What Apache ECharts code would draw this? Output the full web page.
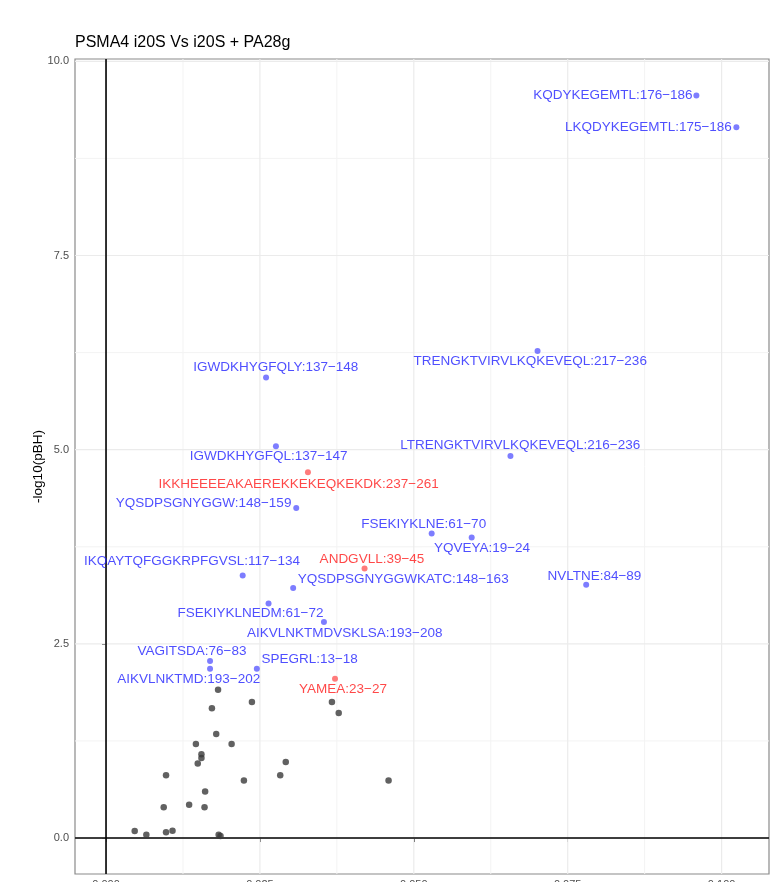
<!DOCTYPE html>
<html>
<head>
<meta charset="utf-8">
<script src="https://cdn.jsdelivr.net/npm/echarts@6/dist/echarts.min.js"></script>
<style>
html,body{margin:0;padding:0;background:#fff;}
#chart{width:782px;height:882px;}
</style>
</head>
<body>
<div id="chart"></div>
<script>
// ---- data ----
const titleText = 'PSMA4 i20S Vs i20S + PA28g';
const yAxisTitle = '-log10(pBH)';

const xMajorTicks = [0, 0.025, 0.05, 0.075, 0.1];
const xMinorTicks = [0.0125, 0.0375, 0.0625, 0.0875];
const yMajorTicks = [0, 2.5, 5, 7.5, 10];
const yMinorTicks = [1.25, 3.75, 6.25, 8.75];

const blueNames = [
  'KQDYKEGEMTL:176\u2212186',
  'LKQDYKEGEMTL:175\u2212186',
  'TRENGKTVIRVLKQKEVEQL:217\u2212236',
  'LTRENGKTVIRVLKQKEVEQL:216\u2212236',
  'IGWDKHYGFQLY:137\u2212148',
  'IGWDKHYGFQL:137\u2212147',
  'YQSDPSGNYGGW:148\u2212159',
  'FSEKIYKLNE:61\u221270',
  'YQVEYA:19\u221224',
  'IKQAYTQFGGKRPFGVSL:117\u2212134',
  'YQSDPSGNYGGWKATC:148\u2212163',
  'FSEKIYKLNEDM:61\u221272',
  'AIKVLNKTMDVSKLSA:193\u2212208',
  'VAGITSDA:76\u221283',
  'AIKVLNKTMD:193\u2212202',
  'SPEGRL:13\u221218',
  'NVLTNE:84\u221289'
];
const blueX = [0.0959, 0.1024, 0.0701, 0.0657, 0.0260, 0.0276, 0.0309, 0.0529, 0.0594, 0.0222, 0.0304, 0.0264, 0.0354, 0.0169, 0.0169, 0.0245, 0.0780];
const blueY = [9.56, 9.15, 6.27, 4.92, 5.93, 5.045, 4.25, 3.92, 3.87, 3.38, 3.22, 3.02, 2.78, 2.28, 2.18, 2.18, 3.26];

const redNames = [
  'IKKHEEEEAKAEREKKEKEQKEKDK:237\u2212261',
  'ANDGVLL:39\u221245',
  'YAMEA:23\u221227'
];
const redX = [0.0328, 0.0420, 0.0372];
const redY = [4.71, 3.47, 2.05];

const grayX = [0.0182, 0.0237, 0.0172, 0.0367, 0.0378, 0.0179, 0.0146, 0.0204, 0.0155, 0.0155, 0.0149, 0.0292, 0.0283, 0.00975, 0.0224, 0.0459, 0.0161, 0.00937, 0.0135, 0.0160, 0.00466, 0.00655, 0.00975, 0.0108, 0.0183, 0.0186];
const grayY = [1.91, 1.75, 1.67, 1.75, 1.61, 1.34, 1.21, 1.21, 1.08, 1.03, 0.96, 0.98, 0.81, 0.81, 0.74, 0.74, 0.60, 0.395, 0.43, 0.395, 0.09, 0.043, 0.073, 0.094, 0.043, 0.026];

// axis limits
const X_MIN = -0.00504, X_MAX = 0.1077;
const Y_MIN = -0.463, Y_MAX = 10.03;

// ---- layout (label nudges in px, like ggrepel placement) ----
const blueLabelOffsets = [
  [-83.5, 0], [-88, 0], [-7.4, 10], [9.7, -10.4], [9.7, -10.3], [-7.3, 9.7],
  [-92.7, -5], [-8, -9], [10.3, 10.6], [-50.7, -14.7], [110, -8.4], [-18, 10],
  [20.8, 11], [-18, -10], [-21.3, 10.4], [52.8, -9], [8.2, -8.7]
];
const redLabelOffsets = [[-9.3, 11.6], [7.4, -9], [8, 10.3]];

const FONT = 'Liberation Sans, Arial, sans-serif';
const BLUE_TXT = '#2323FF', BLUE_PT = '#5C5CFF';
const RED_TXT = '#FF1A1A', RED_PT = '#FF5A5A';

function labelled(xs, ys, names, offs) {
  return xs.map((x, i) => ({ value: [x, ys[i]], name: names[i], label: { offset: offs[i] } }));
}

function vLine(v, color, width, z) {
  return {
    type: 'line', z: z, silent: true, showSymbol: false, symbol: 'none',
    lineStyle: { color: color, width: width, type: 'solid' },
    data: [[v, Y_MIN], [v, Y_MAX]]
  };
}
function hLine(v, color, width, z) {
  return {
    type: 'line', z: z, silent: true, showSymbol: false, symbol: 'none',
    lineStyle: { color: color, width: width, type: 'solid' },
    data: [[X_MIN, v], [X_MAX, v]]
  };
}

const series = [];
xMinorTicks.forEach(v => series.push(vLine(v, '#F3F3F3', 1, 1)));
yMinorTicks.forEach(v => series.push(hLine(v, '#F3F3F3', 1, 1)));
xMajorTicks.forEach(v => series.push(vLine(v, '#EBEBEB', 1.2, 1)));
yMajorTicks.forEach(v => series.push(hLine(v, '#EBEBEB', 1.2, 1)));
series.push(vLine(0, '#000', 1.6, 2));
series.push(hLine(0, '#000', 1.6, 2));
series.push({
  type: 'scatter', z: 3, symbolSize: 6.5,
  itemStyle: { color: '#3a3a3a', opacity: 0.8 },
  data: grayX.map((x, i) => [x, grayY[i]])
});
series.push({
  type: 'scatter', z: 4, symbolSize: 6,
  itemStyle: { color: BLUE_PT },
  label: {
    show: true, position: 'inside', align: 'center', verticalAlign: 'middle',
    formatter: p => p.name, fontFamily: FONT, fontSize: 13.5, color: BLUE_TXT, textBorderWidth: 0
  },
  data: labelled(blueX, blueY, blueNames, blueLabelOffsets)
});
series.push({
  type: 'scatter', z: 4, symbolSize: 6,
  itemStyle: { color: RED_PT },
  label: {
    show: true, position: 'inside', align: 'center', verticalAlign: 'middle',
    formatter: p => p.name, fontFamily: FONT, fontSize: 13.5, color: RED_TXT, textBorderWidth: 0
  },
  data: labelled(redX, redY, redNames, redLabelOffsets)
});

const chart = echarts.init(document.getElementById('chart'));
chart.setOption({
  animation: false,
  backgroundColor: '#ffffff',
  title: {
    text: titleText,
    left: 70, top: 30,
    textStyle: { fontFamily: FONT, fontSize: 16, fontWeight: 'normal', color: '#000' }
  },
  grid: {
    left: 75, right: 13, top: 59, bottom: 8,
    outerBoundsMode: 'none', containLabel: false,
    show: true, borderColor: '#8a8a8a', borderWidth: 1.2, backgroundColor: '#fff'
  },
  xAxis: {
    type: 'value', min: X_MIN, max: X_MAX,
    axisLine: { show: false },
    splitLine: { show: false },
    minorSplitLine: { show: false },
    axisTick: { show: true, length: 4, lineStyle: { color: '#333' }, customValues: xMajorTicks },
    axisLabel: {
      customValues: xMajorTicks, margin: 5,
      fontFamily: FONT, fontSize: 11, color: '#4D4D4D',
      formatter: v => v.toFixed(3)
    }
  },
  yAxis: {
    type: 'value', min: Y_MIN, max: Y_MAX,
    name: yAxisTitle, nameLocation: 'middle', nameRotate: 90, nameGap: 30,
    nameMoveOverlap: false,
    nameTextStyle: { fontFamily: FONT, fontSize: 13.5, color: '#000' },
    axisLine: { show: false },
    splitLine: { show: false },
    minorSplitLine: { show: false },
    axisTick: { show: true, length: 4, lineStyle: { color: '#333' }, customValues: yMajorTicks },
    axisLabel: {
      customValues: yMajorTicks, margin: 6,
      fontFamily: FONT, fontSize: 11, color: '#4D4D4D',
      formatter: v => v.toFixed(1)
    }
  },
  series: series
});
</script>
</body>
</html>
